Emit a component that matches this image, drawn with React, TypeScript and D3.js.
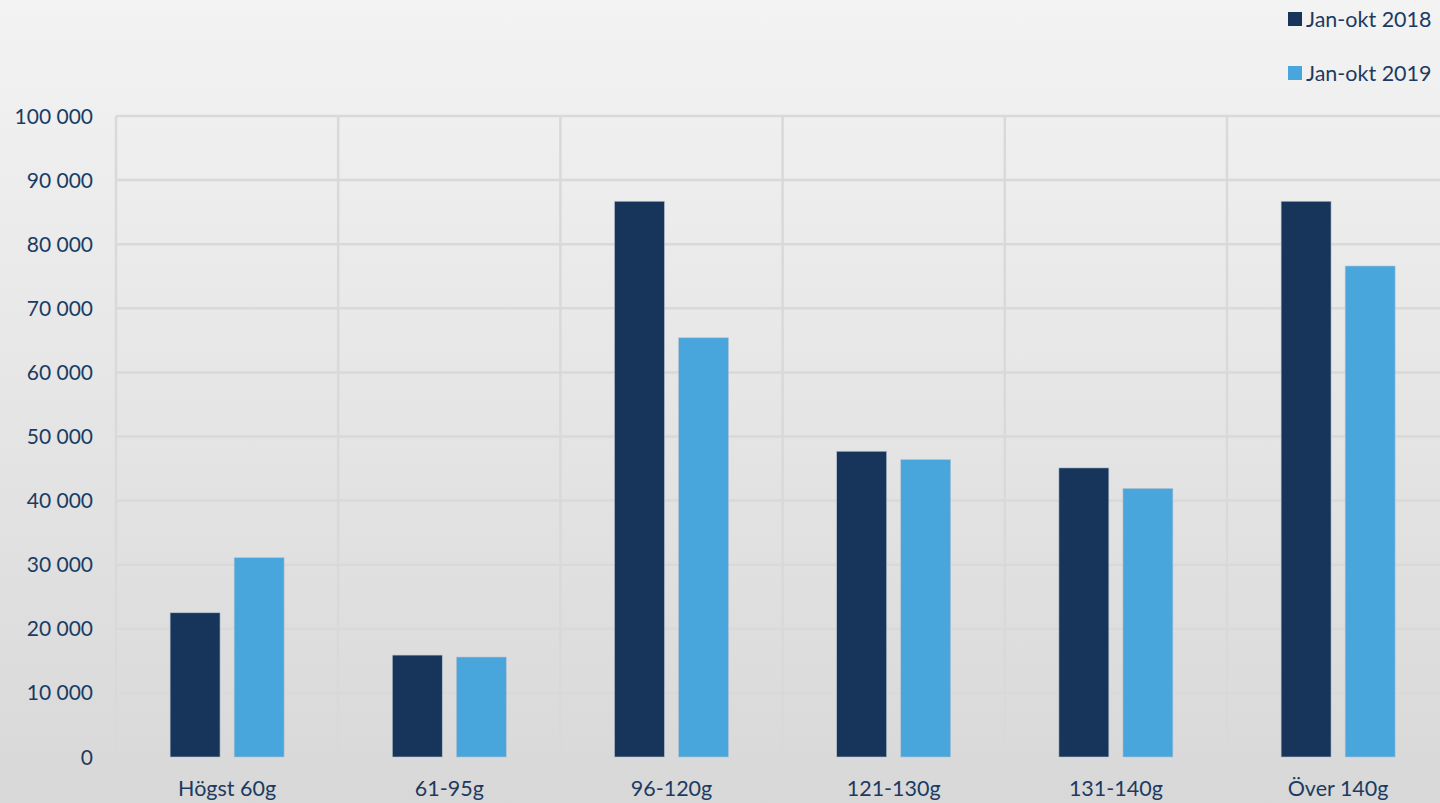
import React from "react";
import * as d3 from "d3";

const categories = ["Högst 60g", "61-95g", "96-120g", "121-130g", "131-140g", "Över 140g"];
const seriesNames = ["Jan-okt 2018", "Jan-okt 2019"];
const values2018 = [22500, 15900, 86700, 47700, 45100, 86700];
const values2019 = [31100, 15600, 65400, 46400, 41900, 76600];
const yTicks = [0, 10000, 20000, 30000, 40000, 50000, 60000, 70000, 80000, 90000, 100000];

const colors = ["#17355b", "#49a6dc"];
const textColor = "#1d3b60";
const font = "Lato, 'Liberation Sans', sans-serif";

const W = 1440;
const H = 803;
const margin = { left: 116, top: 116, bottom: 757 };

const fmt = (v: number) => d3.format(",")(v).replace(/,/g, " ");

export default function App() {
  const x0 = d3.scaleBand<string>().domain(categories).range([margin.left, margin.left + 6 * 222.2]);
  const step = x0.bandwidth();
  const groupW = 114;
  const x1 = d3
    .scaleBand<string>()
    .domain(seriesNames)
    .range([(step - groupW) / 2, (step + groupW) / 2])
    .paddingInner(0.22);
  const y = d3.scaleLinear().domain([0, 100000]).range([margin.bottom, margin.top]);
  const series = [values2018, values2019];

  return (
    <div style={{ position: "absolute", left: 0, top: 0 }}>
      <svg width={W} height={H} style={{ display: "block" }}>
        <defs>
          <linearGradient id="bg" x1="0" y1="0" x2="0" y2="1">
            <stop offset="0" stopColor="#f3f3f3" />
            <stop offset="1" stopColor="#d8d8d8" />
          </linearGradient>
        </defs>
        <rect width={W} height={H} fill="url(#bg)" />

        {/* grid */}
        {yTicks.map((t) => (
          <line key={"h" + t} x1={margin.left} x2={W} y1={y(t)} y2={y(t)} stroke="#d9d9d9" strokeWidth={2.5} />
        ))}
        {categories.map((c) => (
          <line
            key={"v" + c}
            x1={x0(c)!}
            x2={x0(c)!}
            y1={margin.top}
            y2={margin.bottom}
            stroke="#d9d9d9"
            strokeWidth={2.5}
          />
        ))}

        {/* bars */}
        {categories.map((c, i) => (
          <g key={c} transform={`translate(${x0(c)},0)`}>
            {seriesNames.map((s, j) => (
              <rect
                key={s}
                x={x1(s)!}
                y={y(series[j][i])}
                width={x1.bandwidth()}
                height={y(0) - y(series[j][i])}
                fill={colors[j]}
                stroke="#b8c4d0"
                strokeWidth={0.6}
              />
            ))}
          </g>
        ))}

        {/* y labels */}
        {yTicks.map((t) => (
          <text
            key={"yl" + t}
            x={93}
            y={y(t)}
            dy="0.36em"
            textAnchor="end"
            fontFamily={font}
            fontSize={21}
            fill={textColor}
          >
            {fmt(t)}
          </text>
        ))}

        {/* x labels */}
        {categories.map((c) => (
          <text
            key={"xl" + c}
            x={x0(c)! + step / 2}
            y={796}
            textAnchor="middle"
            fontFamily={font}
            fontSize={21.5}
            fill={textColor}
          >
            {c}
          </text>
        ))}

        {/* legend */}
        {seriesNames.map((s, j) => (
          <g key={"lg" + s} transform={`translate(1288,${12 + j * 54})`}>
            <rect width={14} height={14} fill={colors[j]} />
            <text x={18} y={14.5} fontFamily={font} fontSize={21.5} fill={textColor}>
              {s}
            </text>
          </g>
        ))}
      </svg>
    </div>
  );
}
